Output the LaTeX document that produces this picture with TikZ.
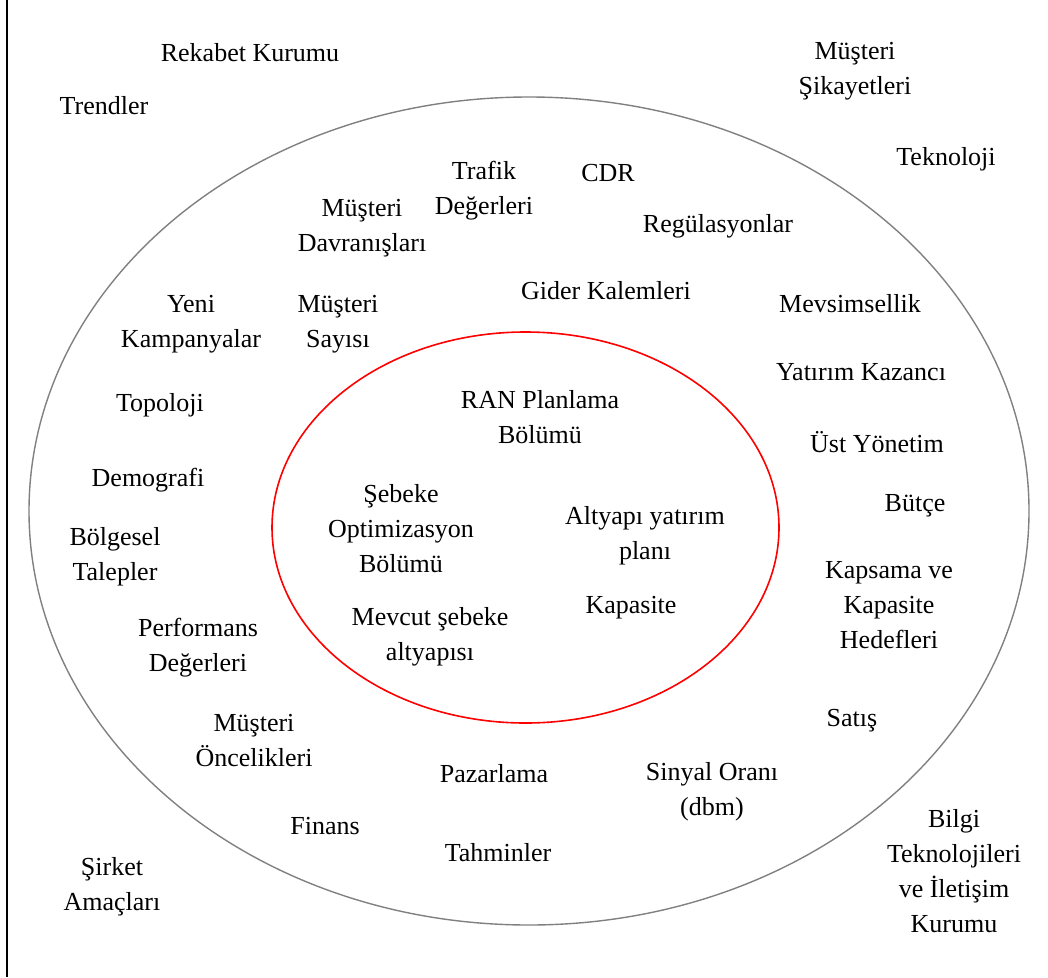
\documentclass[tikz,border=0pt]{standalone}
\usepackage{fontspec}
\setmainfont{Liberation Serif}
\usepackage{tikz}
\usetikzlibrary{positioning}

\begin{document}
\begin{tikzpicture}[x=1pt, y=-1pt,
		lbl/.style={align=center, inner sep=0pt, font=\fontsize{26}{35}\selectfont}]
	\useasboundingbox (0,0) rectangle (1048,977);
	\draw[line width=1.6pt] (7,0) -- (7,977);
	\draw[line width=1.4pt, gray] (529,511) ellipse [x radius=500, y radius=414];
	\draw[line width=1.6pt, red] (525.5,527.5) ellipse [x radius=253.5, y radius=195.5];

	\node[lbl] (rekabet) at (250,53) {Rekabet Kurumu};
	\node[lbl] (trend) at (104,106) {Trendler};
	\node[lbl] (sikayet) at (855,71) {Müşteri\\Şikayetleri};
	\node[lbl] (tekno) at (946,159) {Teknoloji};
	\node[lbl] (trafik) at (484,191) {Trafik\\Değerleri};
	\node[lbl] (cdr) at (608,173) {CDR};
	\node[lbl] (davranis) at (362,228) {Müşteri\\Davranışları};
	\node[lbl] (regul) at (718,226) {Regülasyonlar};
	\node[lbl] (gider) at (606,291) {Gider Kalemleri};
	\node[lbl] (mevsim) at (850,304) {Mevsimsellik};
	\node[lbl] (kampanya) at (191,324) {Yeni\\Kampanyalar};
	\node[lbl] (sayi) at (338,324) {Müşteri\\Sayısı};
	\node[lbl] (yatirim) at (861,372) {Yatırım Kazancı};
	\node[lbl] (topo) at (160,405) {Topoloji};
	\node[lbl] (ran) at (540,417) {RAN Planlama\\Bölümü};
	\node[lbl] (ust) at (877,442) {Üst Yönetim};
	\node[lbl] (demo) at (148,480) {Demografi};
	\node[lbl] (optim) at (401,529) {Şebeke\\Optimizasyon\\Bölümü};
	\node[lbl] (butce) at (915,506) {Bütçe};
	\node[lbl] (altyapi) at (645,536) {Altyapı yatırım\\planı};
	\node[lbl] (bolge) at (115,557) {Bölgesel\\Talepler};
	\node[lbl] (kapsama) at (889,605) {Kapsama ve\\Kapasite\\Hedefleri};
	\node[lbl] (kapasite) at (631,608) {Kapasite};
	\node[lbl] (mevcut) at (430,637) {Mevcut şebeke\\altyapısı};
	\node[lbl] (perf) at (198,648) {Performans\\Değerleri};
	\node[lbl] (satis) at (852,721) {Satış};
	\node[lbl] (oncelik) at (254,741) {Müşteri\\Öncelikleri};
	\node[lbl] (pazar) at (494,774) {Pazarlama};
	\node[lbl] (sinyal) at (712,792) {Sinyal Oranı\\(dbm)};
	\node[lbl] (finans) at (325,826) {Finans};
	\node[lbl] (tahmin) at (498,853) {Tahminler};
	\node[lbl] (bilgi) at (954,871) {Bilgi\\Teknolojileri\\ve İletişim\\Kurumu};
	\node[lbl] (sirket) at (112,887) {Şirket\\Amaçları};
\end{tikzpicture}
\end{document}
